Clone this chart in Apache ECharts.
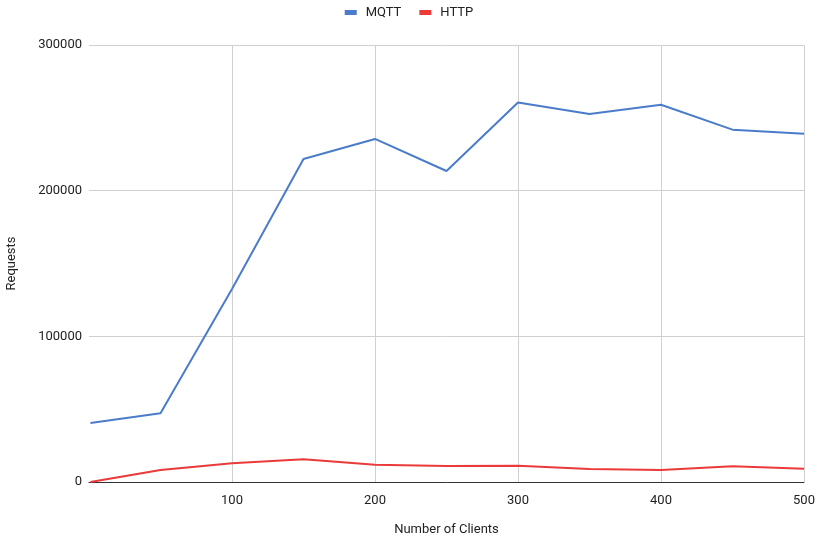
<!DOCTYPE html>
<html>
<head>
<meta charset="utf-8">
<script src="https://cdn.jsdelivr.net/npm/echarts@6/dist/echarts.min.js"></script>
<style>
  html, body { margin: 0; padding: 0; background: #fff; }
  #chart { width: 818px; height: 540px; }
</style>
</head>
<body>
<div id="chart"></div>
<script>
// Number of concurrent clients per run
const clients = [1, 50, 100, 150, 200, 250, 300, 350, 400, 450, 500];
// Requests handled per protocol
const mqttRequests = [40500, 47200, 132500, 221700, 235500, 213500, 260500, 252600, 259000, 241900, 239100];
const httpRequests = [0, 8200, 12800, 15600, 11900, 11000, 11200, 8900, 8200, 10800, 9100];
const seriesNames = ['MQTT', 'HTTP'];
const seriesColors = ['#4a7cc9', '#ea3a3a'];

const pairs = (xs, ys) => xs.map((x, i) => [x, ys[i]]);
const font = 'Roboto, "Liberation Sans", Arial, sans-serif';
const plain = v => String(v);

const chart = echarts.init(document.getElementById('chart'));
chart.setOption({
  animation: false,
  textStyle: { fontFamily: font },
  legend: {
    top: 1,
    left: 'center',
    itemWidth: 12,
    itemHeight: 5,
    itemGap: 18,
    icon: 'rect',
    textStyle: { fontSize: 13, color: '#222', fontFamily: font, padding: [0, 0, 0, 4] },
    data: seriesNames
  },
  grid: { left: 89, right: 14, top: 45, bottom: 58, containLabel: false, outerBoundsMode: 'none' },
  xAxis: {
    type: 'value',
    min: 0,
    max: 500,
    interval: 100,
    name: 'Number of Clients',
    nameLocation: 'middle',
    nameGap: 41,
    nameTextStyle: { fontSize: 13, color: '#222', fontFamily: font },
    axisLine: { show: true, lineStyle: { color: '#333', width: 1 } },
    axisTick: { show: false },
    axisLabel: { showMinLabel: false, fontSize: 13, color: '#222', margin: 12, fontFamily: font, formatter: plain },
    splitLine: { show: true, showMinLine: false, lineStyle: { color: '#d0d0d0', width: 1 } }
  },
  yAxis: {
    type: 'value',
    min: 0,
    max: 300000,
    interval: 100000,
    name: 'Requests',
    nameLocation: 'middle',
    nameGap: 71,
    nameTextStyle: { fontSize: 13, color: '#222', fontFamily: font },
    axisLine: { show: false },
    axisTick: { show: false },
    axisLabel: { fontSize: 13, color: '#222', margin: 7, fontFamily: font, formatter: plain },
    splitLine: { show: true, lineStyle: { color: '#d0d0d0', width: 1 } }
  },
  series: [
    {
      name: seriesNames[0],
      type: 'line',
      data: pairs(clients, mqttRequests),
      showSymbol: false,
      symbol: 'none',
      color: seriesColors[0],
      lineStyle: { width: 2, color: seriesColors[0] },
      z: 3
    },
    {
      name: seriesNames[1],
      type: 'line',
      data: pairs(clients, httpRequests),
      showSymbol: false,
      symbol: 'none',
      color: seriesColors[1],
      lineStyle: { width: 2, color: seriesColors[1] },
      z: 4
    }
  ]
});
</script>
</body>
</html>
